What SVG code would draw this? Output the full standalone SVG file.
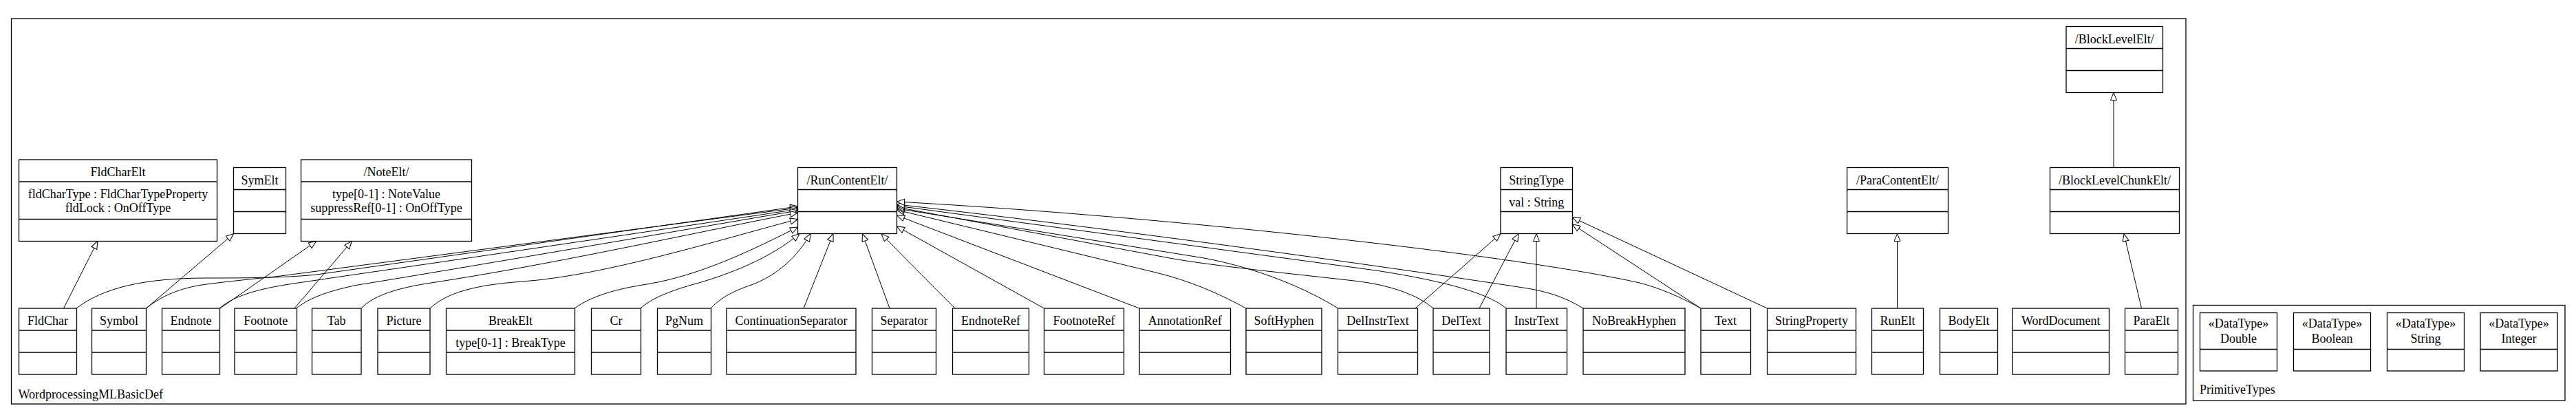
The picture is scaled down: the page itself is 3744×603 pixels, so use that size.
<svg xmlns="http://www.w3.org/2000/svg" width="3744" height="603" viewBox="0 0 3744 603">
<style>
.frame{fill:none;stroke:#000;stroke-width:1.3}
.box{fill:#fff;stroke:#000;stroke-width:1.3}
.sep{stroke:#000;stroke-width:1.3}
text{font-family:"Liberation Serif","Times New Roman",serif;font-size:18px;fill:#000}
.c{text-anchor:middle}
.conn path{fill:none;stroke:#000;stroke-width:1;marker-end:url(#gen)}
</style>
<defs>
<marker id="gen" markerUnits="userSpaceOnUse" markerWidth="14" markerHeight="12" viewBox="0 0 14 12" refX="12" refY="5" orient="auto">
<path d="M1,0.5 L12,5 L1,9.5 Z" fill="#fff" stroke="#000" stroke-width="1"/>
</marker>
</defs>
<rect width="3744" height="603" fill="#fff"/>
<g id="pkg-WordprocessingMLBasicDef">
<rect class="frame" x="16.5" y="27" width="3160.5" height="560"/>
<text x="26.5" y="579">WordprocessingMLBasicDef</text>
</g>
<g id="pkg-PrimitiveTypes">
<rect class="frame" x="3187.5" y="443.5" width="540.5" height="138.5"/>
<text x="3197" y="572">PrimitiveTypes</text>
</g>
<g class="conn" id="connectors">
<path d="M92.5,448 L141.8,350.5"/>
<path d="M212.5,448 L339.5,339.6"/>
<path d="M320,448 L459.6,350.5"/>
<path d="M428,448 L511.4,350.5"/>
<path d="M111,448 C150,418 210,404 300,404 C380,404 420,403 460,399 L1159.5,300"/>
<path d="M212,448 C235,430 262,418 300,413 C340,408 370,405 400,402 L1159.5,302"/>
<path d="M319,448 C335,434 362,422 420,413 C520,398 800,358 1159.5,304"/>
<path d="M431,448 C445,436 470,424 520,414 C620,398 900,350 1159.5,306"/>
<path d="M525,448 C540,432 570,420 620,412 C800,385 1000,340 1159.5,309"/>
<path d="M625,448 C650,425 690,414 760,409 C880,400 1040,350 1159.5,318.5"/>
<path d="M835,448 C860,430 895,420 940,413 C1020,400 1100,360 1159.5,330"/>
<path d="M931,448 C945,435 970,424 1005,414 C1060,399 1120,375 1162,339.6"/>
<path d="M1033,448 C1045,435 1062,424 1092,414 C1130,400 1160,372 1178,339.6"/>
<path d="M1168,448 L1211,339.6"/>
<path d="M1293,448 L1253.5,339.6"/>
<path d="M1388,448 C1360,420 1320,380 1281,339.6"/>
<path d="M1517.5,448 L1303.5,329"/>
<path d="M1656,448 L1303.5,313"/>
<path d="M1811,448 C1775,428 1730,408 1680,396 L1303.5,305"/>
<path d="M1944.5,448 C1900,420 1830,390 1750,375 L1303.5,303"/>
<path d="M2083,448 C2060,428 2020,414 1968,408 C1880,398 1760,386 1700,375 L1303.5,301"/>
<path d="M2189,448 C2165,428 2110,410 2000,393 L1303.5,299"/>
<path d="M2301,448 C2275,432 2250,424 2220,419 C2000,385 1600,330 1303.5,297"/>
<path d="M2472,448 C2440,430 2410,418 2383,411 C2200,370 1700,315 1303.5,293"/>
<path d="M2057,448 L2181,339.6"/>
<path d="M2150,448 L2207,339.6"/>
<path d="M2233,448 L2233,339.6"/>
<path d="M2472,448 L2285.5,326"/>
<path d="M2568.5,448 L2285.5,316"/>
<path d="M2757.5,448 L2757.5,339.6"/>
<path d="M3112.5,448 L3087,339.6"/>
<path d="M3072,243.4 L3072,134.6"/>
</g>
<g id="FldCharElt">
<rect class="box" x="27.5" y="232" width="288" height="118.5"/>
<line class="sep" x1="27.5" y1="264" x2="315.5" y2="264"/>
<line class="sep" x1="27.5" y1="318.5" x2="315.5" y2="318.5"/>
<text class="c" x="171.5" y="256">FldCharElt</text>
<text class="c" x="171.5" y="288">fldCharType : FldCharTypeProperty</text>
<text class="c" x="171.5" y="308">fldLock : OnOffType</text>
</g>
<g id="NoteElt">
<rect class="box" x="437.5" y="232" width="248" height="118.5"/>
<line class="sep" x1="437.5" y1="264" x2="685.5" y2="264"/>
<line class="sep" x1="437.5" y1="318.5" x2="685.5" y2="318.5"/>
<text class="c" x="561.5" y="256">/NoteElt/</text>
<text class="c" x="561.5" y="288">type[0-1] : NoteValue</text>
<text class="c" x="561.5" y="308">suppressRef[0-1] : OnOffType</text>
</g>
<g id="SymElt">
<rect class="box" x="339.5" y="243.5" width="76" height="96"/>
<line class="sep" x1="339.5" y1="275.5" x2="415.5" y2="275.5"/>
<line class="sep" x1="339.5" y1="307.5" x2="415.5" y2="307.5"/>
<text class="c" x="377.5" y="267.5">SymElt</text>
</g>
<g id="RunContentElt">
<rect class="box" x="1159.5" y="243.5" width="144" height="96"/>
<line class="sep" x1="1159.5" y1="275.5" x2="1303.5" y2="275.5"/>
<line class="sep" x1="1159.5" y1="307.5" x2="1303.5" y2="307.5"/>
<text class="c" x="1231.5" y="267.5">/RunContentElt/</text>
</g>
<g id="StringType">
<rect class="box" x="2181" y="243.5" width="104.5" height="96"/>
<line class="sep" x1="2181" y1="275.5" x2="2285.5" y2="275.5"/>
<line class="sep" x1="2181" y1="307.5" x2="2285.5" y2="307.5"/>
<text class="c" x="2233.2" y="267.5">StringType</text>
<text class="c" x="2233.2" y="299.5">val : String</text>
</g>
<g id="ParaContentElt">
<rect class="box" x="2684.5" y="243.5" width="147" height="96"/>
<line class="sep" x1="2684.5" y1="275.5" x2="2831.5" y2="275.5"/>
<line class="sep" x1="2684.5" y1="307.5" x2="2831.5" y2="307.5"/>
<text class="c" x="2758" y="267.5">/ParaContentElt/</text>
</g>
<g id="BlockLevelChunkElt">
<rect class="box" x="2979.5" y="243.5" width="188" height="96"/>
<line class="sep" x1="2979.5" y1="275.5" x2="3167.5" y2="275.5"/>
<line class="sep" x1="2979.5" y1="307.5" x2="3167.5" y2="307.5"/>
<text class="c" x="3073.5" y="267.5">/BlockLevelChunkElt/</text>
</g>
<g id="BlockLevelElt">
<rect class="box" x="3003" y="38.5" width="140.5" height="96"/>
<line class="sep" x1="3003" y1="70.5" x2="3143.5" y2="70.5"/>
<line class="sep" x1="3003" y1="102.5" x2="3143.5" y2="102.5"/>
<text class="c" x="3073.2" y="62.5">/BlockLevelElt/</text>
</g>
<g id="FldChar"><rect class="box" x="27.5" y="448" width="84" height="96"/><line class="sep" x1="27.5" y1="480" x2="111.5" y2="480"/><line class="sep" x1="27.5" y1="512" x2="111.5" y2="512"/><text class="c" x="69.5" y="472">FldChar</text></g>
<g id="Symbol"><rect class="box" x="133.5" y="448" width="79" height="96"/><line class="sep" x1="133.5" y1="480" x2="212.5" y2="480"/><line class="sep" x1="133.5" y1="512" x2="212.5" y2="512"/><text class="c" x="173" y="472">Symbol</text></g>
<g id="Endnote"><rect class="box" x="235.5" y="448" width="84" height="96"/><line class="sep" x1="235.5" y1="480" x2="319.5" y2="480"/><line class="sep" x1="235.5" y1="512" x2="319.5" y2="512"/><text class="c" x="277.5" y="472">Endnote</text></g>
<g id="Footnote"><rect class="box" x="341" y="448" width="90.5" height="96"/><line class="sep" x1="341" y1="480" x2="431.5" y2="480"/><line class="sep" x1="341" y1="512" x2="431.5" y2="512"/><text class="c" x="386.2" y="472">Footnote</text></g>
<g id="Tab"><rect class="box" x="453.5" y="448" width="71.5" height="96"/><line class="sep" x1="453.5" y1="480" x2="525" y2="480"/><line class="sep" x1="453.5" y1="512" x2="525" y2="512"/><text class="c" x="489.2" y="472">Tab</text></g>
<g id="Picture"><rect class="box" x="549" y="448" width="76" height="96"/><line class="sep" x1="549" y1="480" x2="625" y2="480"/><line class="sep" x1="549" y1="512" x2="625" y2="512"/><text class="c" x="587" y="472">Picture</text></g>
<g id="BreakElt"><rect class="box" x="648.5" y="448" width="187" height="96"/><line class="sep" x1="648.5" y1="480" x2="835.5" y2="480"/><line class="sep" x1="648.5" y1="512" x2="835.5" y2="512"/><text class="c" x="742" y="472">BreakElt</text><text class="c" x="742" y="504">type[0-1] : BreakType</text></g>
<g id="Cr"><rect class="box" x="859.5" y="448" width="72" height="96"/><line class="sep" x1="859.5" y1="480" x2="931.5" y2="480"/><line class="sep" x1="859.5" y1="512" x2="931.5" y2="512"/><text class="c" x="895.5" y="472">Cr</text></g>
<g id="PgNum"><rect class="box" x="955.5" y="448" width="78" height="96"/><line class="sep" x1="955.5" y1="480" x2="1033.5" y2="480"/><line class="sep" x1="955.5" y1="512" x2="1033.5" y2="512"/><text class="c" x="994.5" y="472">PgNum</text></g>
<g id="ContinuationSeparator"><rect class="box" x="1056" y="448" width="188" height="96"/><line class="sep" x1="1056" y1="480" x2="1244" y2="480"/><line class="sep" x1="1056" y1="512" x2="1244" y2="512"/><text class="c" x="1150" y="472">ContinuationSeparator</text></g>
<g id="Separator"><rect class="box" x="1267.5" y="448" width="93" height="96"/><line class="sep" x1="1267.5" y1="480" x2="1360.5" y2="480"/><line class="sep" x1="1267.5" y1="512" x2="1360.5" y2="512"/><text class="c" x="1314" y="472">Separator</text></g>
<g id="EndnoteRef"><rect class="box" x="1384.5" y="448" width="111" height="96"/><line class="sep" x1="1384.5" y1="480" x2="1495.5" y2="480"/><line class="sep" x1="1384.5" y1="512" x2="1495.5" y2="512"/><text class="c" x="1440" y="472">EndnoteRef</text></g>
<g id="FootnoteRef"><rect class="box" x="1517.5" y="448" width="116" height="96"/><line class="sep" x1="1517.5" y1="480" x2="1633.5" y2="480"/><line class="sep" x1="1517.5" y1="512" x2="1633.5" y2="512"/><text class="c" x="1575.5" y="472">FootnoteRef</text></g>
<g id="AnnotationRef"><rect class="box" x="1656" y="448" width="132.5" height="96"/><line class="sep" x1="1656" y1="480" x2="1788.5" y2="480"/><line class="sep" x1="1656" y1="512" x2="1788.5" y2="512"/><text class="c" x="1722.2" y="472">AnnotationRef</text></g>
<g id="SoftHyphen"><rect class="box" x="1811" y="448" width="110" height="96"/><line class="sep" x1="1811" y1="480" x2="1921" y2="480"/><line class="sep" x1="1811" y1="512" x2="1921" y2="512"/><text class="c" x="1866" y="472">SoftHyphen</text></g>
<g id="DelInstrText"><rect class="box" x="1944.5" y="448" width="116" height="96"/><line class="sep" x1="1944.5" y1="480" x2="2060.5" y2="480"/><line class="sep" x1="1944.5" y1="512" x2="2060.5" y2="512"/><text class="c" x="2002.5" y="472">DelInstrText</text></g>
<g id="DelText"><rect class="box" x="2083" y="448" width="82" height="96"/><line class="sep" x1="2083" y1="480" x2="2165" y2="480"/><line class="sep" x1="2083" y1="512" x2="2165" y2="512"/><text class="c" x="2124" y="472">DelText</text></g>
<g id="InstrText"><rect class="box" x="2189" y="448" width="88.5" height="96"/><line class="sep" x1="2189" y1="480" x2="2277.5" y2="480"/><line class="sep" x1="2189" y1="512" x2="2277.5" y2="512"/><text class="c" x="2233.2" y="472">InstrText</text></g>
<g id="NoBreakHyphen"><rect class="box" x="2301" y="448" width="148" height="96"/><line class="sep" x1="2301" y1="480" x2="2449" y2="480"/><line class="sep" x1="2301" y1="512" x2="2449" y2="512"/><text class="c" x="2375" y="472">NoBreakHyphen</text></g>
<g id="Text"><rect class="box" x="2472" y="448" width="72.5" height="96"/><line class="sep" x1="2472" y1="480" x2="2544.5" y2="480"/><line class="sep" x1="2472" y1="512" x2="2544.5" y2="512"/><text class="c" x="2508.2" y="472">Text</text></g>
<g id="StringProperty"><rect class="box" x="2568.5" y="448" width="129" height="96"/><line class="sep" x1="2568.5" y1="480" x2="2697.5" y2="480"/><line class="sep" x1="2568.5" y1="512" x2="2697.5" y2="512"/><text class="c" x="2633" y="472">StringProperty</text></g>
<g id="RunElt"><rect class="box" x="2720.5" y="448" width="75" height="96"/><line class="sep" x1="2720.5" y1="480" x2="2795.5" y2="480"/><line class="sep" x1="2720.5" y1="512" x2="2795.5" y2="512"/><text class="c" x="2758" y="472">RunElt</text></g>
<g id="BodyElt"><rect class="box" x="2819.5" y="448" width="84" height="96"/><line class="sep" x1="2819.5" y1="480" x2="2903.5" y2="480"/><line class="sep" x1="2819.5" y1="512" x2="2903.5" y2="512"/><text class="c" x="2861.5" y="472">BodyElt</text></g>
<g id="WordDocument"><rect class="box" x="2925" y="448" width="140.5" height="96"/><line class="sep" x1="2925" y1="480" x2="3065.5" y2="480"/><line class="sep" x1="2925" y1="512" x2="3065.5" y2="512"/><text class="c" x="2995.2" y="472">WordDocument</text></g>
<g id="ParaElt"><rect class="box" x="3088.5" y="448" width="77" height="96"/><line class="sep" x1="3088.5" y1="480" x2="3165.5" y2="480"/><line class="sep" x1="3088.5" y1="512" x2="3165.5" y2="512"/><text class="c" x="3127" y="472">ParaElt</text></g>
<g id="Double"><rect class="box" x="3197.5" y="454.5" width="112" height="84.5"/><line class="sep" x1="3197.5" y1="507.5" x2="3309.5" y2="507.5"/><text class="c" x="3253.5" y="476">«DataType»</text><text class="c" x="3253.5" y="498">Double</text></g>
<g id="Boolean"><rect class="box" x="3333.5" y="454.5" width="112" height="84.5"/><line class="sep" x1="3333.5" y1="507.5" x2="3445.5" y2="507.5"/><text class="c" x="3389.5" y="476">«DataType»</text><text class="c" x="3389.5" y="498">Boolean</text></g>
<g id="String"><rect class="box" x="3469.5" y="454.5" width="112" height="84.5"/><line class="sep" x1="3469.5" y1="507.5" x2="3581.5" y2="507.5"/><text class="c" x="3525.5" y="476">«DataType»</text><text class="c" x="3525.5" y="498">String</text></g>
<g id="Integer"><rect class="box" x="3605" y="454.5" width="112" height="84.5"/><line class="sep" x1="3605" y1="507.5" x2="3717" y2="507.5"/><text class="c" x="3661" y="476">«DataType»</text><text class="c" x="3661" y="498">Integer</text></g>
</svg>
